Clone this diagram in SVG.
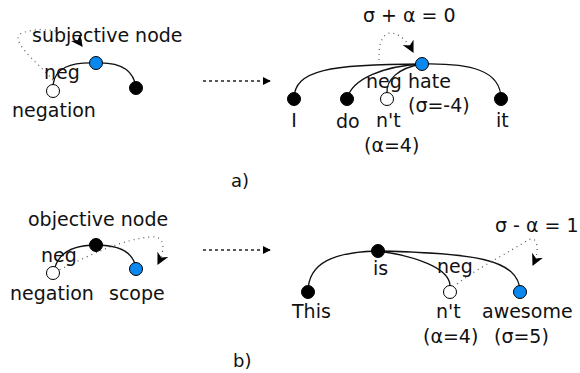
<svg xmlns="http://www.w3.org/2000/svg" width="580" height="373" viewBox="0 0 580 373">
<style>
text{font-family:"DejaVu Sans","Liberation Sans",sans-serif;font-size:19px;fill:#111}
.lbl{font-size:18px}
.arc{fill:none;stroke:#111;stroke-width:1.3}
.dot{fill:none;stroke:#555;stroke-width:1.2;stroke-dasharray:1 4}
.dash{fill:none;stroke:#222;stroke-width:1.3;stroke-dasharray:3 3}
.blk{fill:#000;stroke:#000;stroke-width:1}
.blu{fill:#0a88f0;stroke:#000;stroke-width:1}
.wht{fill:#fff;stroke:#000;stroke-width:1}
</style>
<defs>
<marker id="stealth" viewBox="0 0 10 10" refX="9" refY="5" markerWidth="12" markerHeight="12" markerUnits="userSpaceOnUse" orient="auto">
<path d="M0,0 L10,5 L0,10 L3,5 z" fill="#000"/>
</marker>
<marker id="tri" viewBox="0 0 10 10" refX="9" refY="5" markerWidth="8" markerHeight="8" markerUnits="userSpaceOnUse" orient="auto">
<path d="M0,0 L10,5 L0,10 z" fill="#000"/>
</marker>
</defs>
<g id="connectors">
<path class="arc" d="M53,85 C55,68 70,62 96,63"/>
<path class="arc" d="M96,63 C120,62 134,70 136,88"/>
<path class="dot" d="M53,80 C35,60 8,40 22,33 C40,26 70,30 82,46" marker-end="url(#stealth)"/>
<path class="dash" d="M203,81 L270,81" marker-end="url(#tri)"/>
<path class="dash" d="M203,250 L270,250" marker-end="url(#tri)"/>
<path class="arc" d="M294,99 C294,70 330,64 422,64"/>
<path class="arc" d="M347,99 C352,78 385,66 422,64"/>
<path class="arc" d="M387,93 C386,80 398,68 422,64"/>
<path class="arc" d="M422,64 C470,63 501,70 501,99"/>
<path class="dot" d="M379,60 C378,40 385,32 392,33 C400,34 408,42 413,52" marker-end="url(#stealth)"/>
<path class="arc" d="M55,267 C60,252 75,245 96,245"/>
<path class="arc" d="M96,245 C120,245 134,252 136,269"/>
<path class="dot" d="M55,272 C90,255 120,240 150,237 C165,235 166,248 158,264" marker-end="url(#stealth)"/>
<path class="arc" d="M308,292 C308,262 335,252 378,251"/>
<path class="arc" d="M378,251 C415,256 450,268 450,286"/>
<path class="arc" d="M378,251 C470,253 520,258 520,292"/>
<path class="dot" d="M453,287 C480,266 510,252 528,240 C538,235 540,250 533,265" marker-end="url(#stealth)"/>
</g>
<g id="a-left">
<text x="32" y="42">subjective node</text>
<text x="44" y="79">neg</text>
<text x="12" y="117">negation</text>
<g id="a-neg-node"><circle class="wht" cx="53" cy="91" r="6.5"/></g>
<g id="a-subj-node"><circle class="blu" cx="96" cy="63" r="6.5"/></g>
<g id="a-black-node"><circle class="blk" cx="136" cy="88" r="6.5"/></g>
</g>
<g id="a-right">
<text x="363" y="22">σ + α = 0</text>
<text x="366" y="88">neg</text>
<g id="node-hate"><circle class="blu" cx="422" cy="64" r="6.5"/><text x="408" y="88">hate</text><text x="408" y="112">(σ=-4)</text></g>
<g id="node-I"><circle class="blk" cx="294" cy="99" r="6.5"/><text x="294" y="127" text-anchor="middle">I</text></g>
<g id="node-do"><circle class="blk" cx="347" cy="99" r="6.5"/><text x="336" y="128">do</text></g>
<g id="node-nt-a"><circle class="wht" cx="387" cy="99" r="6.5"/><text x="376" y="127">n't</text><text x="364" y="152">(α=4)</text></g>
<g id="node-it"><circle class="blk" cx="501" cy="99" r="6.5"/><text x="496" y="127">it</text></g>
</g>
<text class="lbl" x="231" y="187">a)</text>
<g id="b-left">
<text x="28" y="226">objective node</text>
<text x="41" y="262">neg</text>
<text x="10" y="300">negation</text>
<text x="109" y="300">scope</text>
<g id="b-neg-node"><circle class="wht" cx="53" cy="273" r="6.5"/></g>
<g id="b-obj-node"><circle class="blk" cx="96" cy="245" r="6.5"/></g>
<g id="b-scope-node"><circle class="blu" cx="136" cy="269" r="6.5"/></g>
</g>
<g id="b-right">
<text x="495" y="232">σ - α = 1</text>
<text x="437" y="273">neg</text>
<g id="node-is"><circle class="blk" cx="378" cy="251" r="6.5"/><text x="373" y="275">is</text></g>
<g id="node-This"><circle class="blk" cx="308" cy="292" r="6.5"/><text x="292" y="318">This</text></g>
<g id="node-nt-b"><circle class="wht" cx="450" cy="292" r="6.5"/><text x="436" y="318">n't</text><text x="423" y="343">(α=4)</text></g>
<g id="node-awesome"><circle class="blu" cx="520" cy="292" r="6.5"/><text x="482" y="318">awesome</text><text x="494" y="343">(σ=5)</text></g>
</g>
<text class="lbl" x="233" y="367">b)</text>
</svg>
